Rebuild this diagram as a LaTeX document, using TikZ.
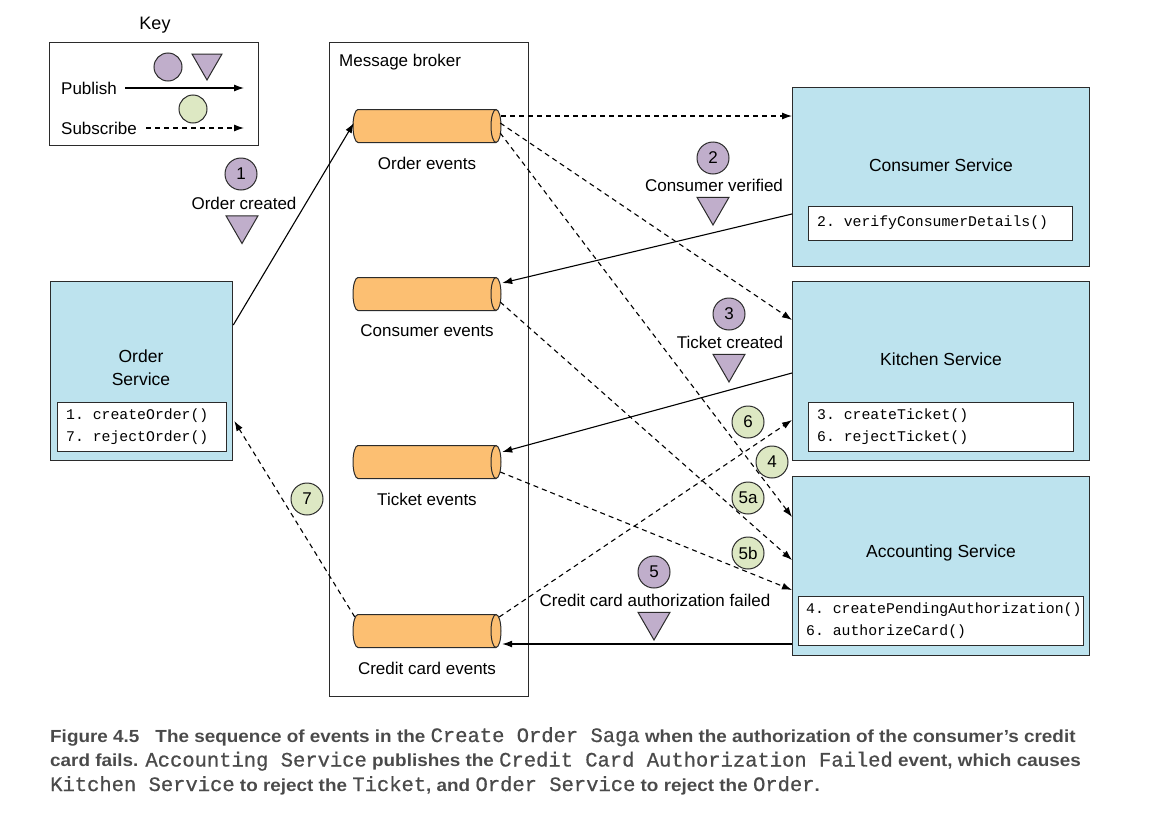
\documentclass[tikz,border=0pt]{standalone}
\usepackage{fontspec}
\setmainfont{Liberation Sans}
\setmonofont{Liberation Mono}
\newfontfamily\capfont{Liberation Sans}[FakeStretch=1.08]
\newfontfamily\capmono{Liberation Mono}[FakeBold=0.6]
\usetikzlibrary{arrows.meta,shapes.geometric,calc}
\definecolor{svc}{HTML}{BDE3EE}
\definecolor{pub}{HTML}{C0AECB}
\definecolor{sub}{HTML}{DDE8C3}
\definecolor{cyl}{HTML}{FCBF72}
\definecolor{edge}{HTML}{2B2B2B}
\definecolor{captext}{HTML}{4A4A4A}
\tikzset{
 svcbox/.style={draw=edge, line width=1.3pt, fill=svc, inner sep=0, anchor=north west},
 methbox/.style={draw=edge, line width=1.1pt, fill=white, inner sep=0, anchor=north west},
 pubc/.style={circle, draw=edge, line width=1pt, fill=pub, minimum size=32pt, inner sep=0, font=\fontsize{17}{17}\selectfont},
 subc/.style={circle, draw=edge, line width=1pt, fill=sub, minimum size=32pt, inner sep=0, font=\fontsize{17}{17}\selectfont},
 tri/.style={regular polygon, regular polygon sides=3, shape border rotate=180, draw=edge, line width=1pt, fill=pub, minimum size=37pt, inner sep=0},
 lbl/.style={font=\fontsize{17}{21}\selectfont, inner sep=0},
 ttl/.style={font=\fontsize{17.5}{23}\selectfont, inner sep=0, align=center},
 code/.style={font=\ttfamily\fontsize{14.8}{21.5}\selectfont, inner sep=0, anchor=west, align=left},
 pubarrow/.style={draw=black, line width=1.1pt, -{Latex[length=10pt,width=7pt]}},
 subarrow/.style={pubarrow, dash pattern=on 5pt off 4pt},
 captionline/.style={font=\capfont\bfseries\fontsize{17.5}{17.5}\selectfont, text=captext, inner sep=0, anchor=base west},
}
\newcommand{\mycode}[1]{{\capmono\mdseries\fontsize{20.5}{20.5}\selectfont #1}}
\newcommand{\evcyl}[3]{%
  \fill[cyl] (358,#2-16.5) rectangle (496,#2+16.5);
  \fill[cyl] (358,#2) ellipse [x radius=5, y radius=16.5];
  \draw[edge, line width=1pt] (496,#2-16.5) -- (358,#2-16.5) arc[start angle=-90, end angle=-270, x radius=5, y radius=16.5] -- (496,#2+16.5);
  \filldraw[fill=cyl, draw=edge, line width=1pt] (496,#2) ellipse [x radius=5, y radius=16.5];
  \node[minimum width=148pt, minimum height=33pt, inner sep=0] (#1) at (427,#2) {};
  \node[lbl] (#1l) at (427,#2+37) {#3};
}
\begin{document}
\begin{tikzpicture}[x=1pt,y=-1pt]
\useasboundingbox (0,0) rectangle (1165,822);

% Key
\node[font=\fontsize{18}{18}\selectfont, inner sep=0] (keyt) at (155,25) {Key};
\node[draw=edge, line width=1.2pt, minimum width=209pt, minimum height=103pt, inner sep=0, anchor=north west] (keyb) at (49,42) {};
\node[pubc, minimum size=28pt] (kc1) at (168,67) {};
\node[tri, minimum size=34.6pt] (kt1) at (207,62.7) {};
\node[subc, minimum size=28pt] (kc2) at (193,109) {};
\node[lbl, anchor=west] (kpub) at (61,88) {Publish};
\node[lbl, anchor=west] (ksub) at (61,128) {Subscribe};
\coordinate (kp1) at (125,88);
\coordinate (kp2) at (244,88);
\coordinate (ks1) at (146,128);
\coordinate (ks2) at (244,128);
\draw[pubarrow] (kp1) -- (kp2);
\draw[subarrow] (ks1) -- (ks2);

% Message broker
\node[draw=edge, line width=1.3pt, minimum width=199pt, minimum height=654pt, inner sep=0, anchor=north west] (mb) at (329,42) {};
\node[lbl, anchor=west] (mbl) at (339,62) {Message broker};
\evcyl{oe}{126}{Order events}
\evcyl{ce}{294}{Consumer events}
\evcyl{te}{462}{Ticket events}
\evcyl{cc}{631}{Credit card events}

% Services
\node[svcbox, minimum width=182pt, minimum height=179pt] (os) at (50,281) {};
\node[ttl] (ost) at (141,368) {Order\\Service};
\node[methbox, minimum width=169pt, minimum height=49pt] (osm) at (57,402) {};
\node[code] (osc) at (66,426.5) {1. createOrder()\\7. rejectOrder()};

\node[svcbox, minimum width=297pt, minimum height=179pt] (cs) at (792,87) {};
\node[ttl] (cst) at (941,165) {Consumer Service};
\node[methbox, minimum width=264pt, minimum height=34pt] (csm) at (808,206) {};
\node[code] (csc) at (817,223) {2. verifyConsumerDetails()};

\node[svcbox, minimum width=297pt, minimum height=179pt] (ks) at (792,281) {};
\node[ttl] (kst) at (941,359) {Kitchen Service};
\node[methbox, minimum width=265pt, minimum height=49pt] (ksm) at (808,402) {};
\node[code] (ksc) at (817,426.5) {3. createTicket()\\6. rejectTicket()};

\node[svcbox, minimum width=297pt, minimum height=179pt] (as) at (792,476) {};
\node[ttl] (ast) at (941,553) {Accounting Service};
\node[methbox, minimum width=285pt, minimum height=49pt] (asm) at (798,596) {};
\node[code] (asc) at (806,620.5) {4. createPendingAuthorization()\\6. authorizeCard()};

% Connectors
\draw[pubarrow] ($(os.north east)+(0,44)$) -- ($(oe.west)+(1,-3)$);
\draw[subarrow] ($(oe.east)+(0,-10)$) -- ($(cs.north west)+(0,29)$);
\draw[subarrow] ($(oe.east)+(-1,-3)$) -- ($(ks.north west)+(0,39)$);
\draw[subarrow] ($(oe.east)+(-1,7)$) -- ($(as.north west)+(0,41)$);
\draw[pubarrow] ($(cs.north west)+(0,127)$) -- ($(ce.east)+(1,-11)$);
\draw[subarrow] ($(ce.east)+(-1,8)$) -- ($(as.north west)+(0,84)$);
\draw[pubarrow] ($(ks.north west)+(0,92)$) -- ($(te.east)+(1,-10)$);
\draw[subarrow] ($(te.east)+(-1,10)$) -- ($(as.north west)+(0,114)$);
\draw[subarrow] ($(cc.east)+(-2,-14)$) -- ($(ks.north west)+(0,139)$);
\draw[pubarrow] ($(as.north west)+(0,168)$) -- ($(cc.east)+(1,13)$);
\draw[subarrow] ($(cc.west)+(2,-14)$) -- ($(os.north east)+(1,140)$);

% Event labels
\node[pubc] (n1) at (241,174) {1};
\node[lbl] (n1l) at (244,203) {Order created};
\node[tri] (n1t) at (242,225) {};
\node[pubc] (n2) at (713,158) {2};
\node[lbl] (n2l) at (714,185) {Consumer verified};
\node[tri] (n2t) at (713,206.5) {};
\node[pubc] (n3) at (729,314) {3};
\node[lbl] (n3l) at (730,342) {Ticket created};
\node[tri] (n3t) at (729,363.5) {};
\node[pubc] (n5) at (654,572) {5};
\node[lbl] (n5l) at (655,600) {Credit card authorization failed};
\node[tri] (n5t) at (654,621.5) {};

\node[subc] (g6) at (748,422) {6};
\node[subc] (g4) at (772,462) {4};
\node[subc] (g5a) at (748,498) {5a};
\node[subc] (g5b) at (748,553) {5b};
\node[subc] (g7) at (307,499) {7};

% Caption
\node[captionline] (cap1) at (50,742) {Figure 4.5\hspace{16pt}The sequence of events in the \mycode{Create Order Saga} when the authorization of the consumer’s credit};
\node[captionline] (cap2) at (50,766.5) {card fails. \mycode{Accounting Service} publishes the \mycode{Credit Card Authorization Failed} event, which causes};
\node[captionline] (cap3) at (50,791) {\mycode{Kitchen Service} to reject the \mycode{Ticket}, and \mycode{Order Service} to reject the \mycode{Order}.};
\end{tikzpicture}
\end{document}
